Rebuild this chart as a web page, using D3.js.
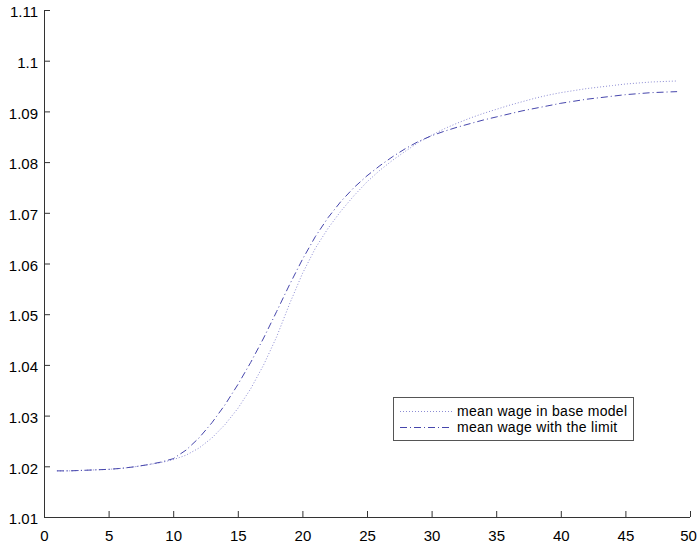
<!DOCTYPE html>
<html><head><meta charset="utf-8">
<script src="https://cdn.jsdelivr.net/npm/d3@7"></script>
<style>body{margin:0;background:#fff}svg{display:block}text{font-family:"Liberation Sans",Arial,sans-serif}</style>
</head><body>
<script>
const periods = d3.range(1, 50);
const baseModel = [1.0191,1.0191,1.0192,1.0193,1.0194,1.0196,1.0199,1.0203,1.0207,1.0213,
  1.0222,1.0236,1.0256,1.0282,1.0314,1.0353,1.0400,1.0455,1.0520,1.0580,
  1.0630,1.0670,1.0704,1.0734,1.0761,1.0784,1.0804,1.0822,1.0839,1.0853,
  1.0866,1.0877,1.0887,1.0896,1.0904,1.0912,1.0919,1.0926,1.0932,1.0937,
  1.0941,1.0945,1.0948,1.0951,1.0954,1.0956,1.0958,1.0959,1.0960];
const withLimit = [1.0191,1.0191,1.0192,1.0193,1.0194,1.0196,1.0199,1.0203,1.0208,1.0215,
  1.0232,1.0256,1.0286,1.0321,1.0361,1.0405,1.0453,1.0505,1.0558,1.0608,
  1.0653,1.0691,1.0723,1.0750,1.0773,1.0793,1.0811,1.0827,1.0841,1.0852,
  1.0861,1.0869,1.0876,1.0883,1.0889,1.0895,1.0901,1.0906,1.0911,1.0916,
  1.0920,1.0924,1.0927,1.0930,1.0933,1.0935,1.0937,1.0938,1.0939];
const xTicks = [0,5,10,15,20,25,30,35,40,45,50];
const yTicks = [1.01,1.02,1.03,1.04,1.05,1.06,1.07,1.08,1.09,1.1,1.11];
const seriesNames = ["mean wage in base model","mean wage with the limit"];

const W = 697, H = 542;
const svg = d3.select("body").append("svg").attr("width", W).attr("height", H);
const x = d3.scaleLinear().domain([0,50]).range([44,690]);
const y = d3.scaleLinear().domain([1.01,1.11]).range([517,10]);
const axisColor = "#333";

const xAxis = svg.append("g").attr("transform","translate(0,517)")
  .call(d3.axisBottom(x).tickValues(xTicks).tickSize(-6).tickPadding(10).tickFormat(d3.format("d")));
const yAxis = svg.append("g").attr("transform","translate(44,0)")
  .call(d3.axisLeft(y).tickValues(yTicks).tickSize(-6).tickPadding(6).tickFormat(d => String(+d.toFixed(2))));
[xAxis, yAxis].forEach(g => {
  g.selectAll(".tick line").attr("stroke", axisColor);
  g.selectAll(".tick text").attr("fill","#000").style("font-size","15px").style("font-family",'"Liberation Sans",Arial,sans-serif');
});
// axis lines (box off: only left and bottom)
xAxis.select(".domain").attr("stroke", axisColor).attr("d", `M${x(0)},0.5H${x(50)}`).attr("fill","none");
yAxis.select(".domain").attr("stroke", axisColor).attr("d", `M0.5,${y(1.11)}V${y(1.01)}`).attr("fill","none");
xAxis.selectAll(".tick text").attr("dy","0.9em").attr("dx", d => d === 50 ? -2 : 0);
yAxis.selectAll(".tick text").attr("dy","0.45em");

const line = d3.line().x((d,i) => x(periods[i])).y(d => y(d));
const baseColor = "#8c8cd4", limColor = "#4646ac";
svg.append("path").datum(baseModel).attr("d", line).attr("fill","none")
  .attr("stroke", baseColor).attr("stroke-width",1).attr("stroke-dasharray","1,2");
svg.append("path").datum(withLimit).attr("d", line).attr("fill","none")
  .attr("stroke", limColor).attr("stroke-width",1).attr("stroke-dasharray","7,3,1,3");

// legend
const lg = svg.append("g");
lg.append("rect").attr("x",393.5).attr("y",397.5).attr("width",240).attr("height",43)
  .attr("fill","#fff").attr("stroke","#555");
const styles = [[baseColor,"1,2"],[limColor,"7,3,1,3"]];
seriesNames.forEach((n,i) => {
  const cy = 411 + i*16;
  lg.append("line").attr("x1",400).attr("x2",452).attr("y1",cy+0.5).attr("y2",cy+0.5)
    .attr("stroke",styles[i][0]).attr("stroke-dasharray",styles[i][1]);
  lg.append("text").attr("x",457).attr("y",cy+5).text(n).style("font-size","14px")
    .style("letter-spacing","0.3px").attr("fill","#000");
});
</script>
</body></html>
